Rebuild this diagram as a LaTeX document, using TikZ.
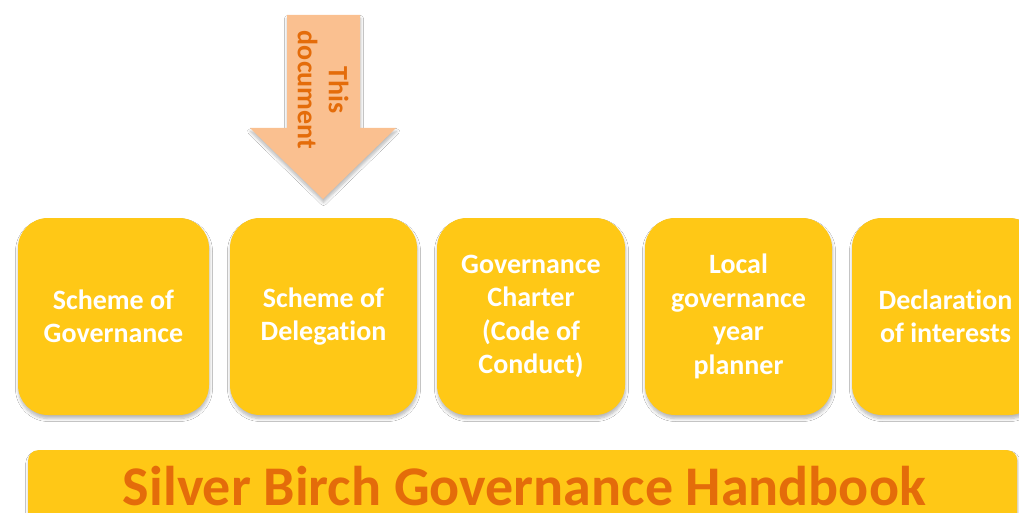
\documentclass[tikz,border=0pt]{standalone}
\usepackage{fontspec}
\setmainfont{Carlito}[Ligatures=NoCommon, RawFeature={-liga;-clig;-calt;-dlig}]
\usetikzlibrary{shadows.blur}
\definecolor{tileyellow}{RGB}{255,200,22}
\definecolor{peach}{RGB}{250,192,144}
\definecolor{burnt}{RGB}{228,108,10}

\begin{document}
\begin{tikzpicture}[x=1pt,y=-1pt,
  softshadow/.style={blur shadow={shadow xshift=0.5pt, shadow yshift=-3.5pt,
      shadow blur radius=3pt, shadow blur steps=6, shadow opacity=28}},
  tile/.style={fill=tileyellow, rounded corners=30pt, minimum height=197pt,
      inner sep=0pt, text=white, align=center,
      font=\bfseries\fontsize{28}{33.5}\selectfont, softshadow},
  band/.style={fill=tileyellow, rounded corners=10pt, inner sep=0pt, softshadow},
  pointer/.style={fill=peach, draw=none, softshadow},
  pointerlabel/.style={text=burnt, align=center, rotate=-90, inner sep=0pt,
      font=\bfseries\fontsize{28}{31}\selectfont},
  titletext/.style={text=burnt, inner sep=0pt,
      font=\bfseries\fontsize{56}{60}\selectfont}
]
\useasboundingbox (0,0) rectangle (1019,513);
\fill[white] (0,0) rectangle (1019,513);

% downward arrow marking this document
\path[pointer] (287,15) -- (360,15) -- (360,128) -- (396,128) -- (323,199)
  -- (250,128) -- (287,128) -- cycle;
\node[pointerlabel] (thisdoc) at (323,90) {This\\document};

% row of governance documents
\node[tile, minimum width=191pt] (scheme)  at (113.5,316.5) {Scheme of\\Governance};
\node[tile, minimum width=187pt] (deleg)   at (323.5,316.5) {Scheme of\\Delegation};
\node[tile, minimum width=188pt] (charter) at (531,316.5)   {Governance\\Charter\\(Code of\\Conduct)};
\node[tile, minimum width=187pt] (planner) at (738.5,316.5) {Local\\governance\\year\\planner};
\node[tile, minimum width=187pt] (declare) at (945.5,316.5) {Declaration\\of interests};

% handbook band along the bottom
\node[band, anchor=north west, minimum width=989pt, minimum height=100pt] (handbook) at (28,450) {};
\node[titletext, anchor=base] (title) at (524.5,505) {Silver Birch Governance Handbook};
\end{tikzpicture}
\end{document}
